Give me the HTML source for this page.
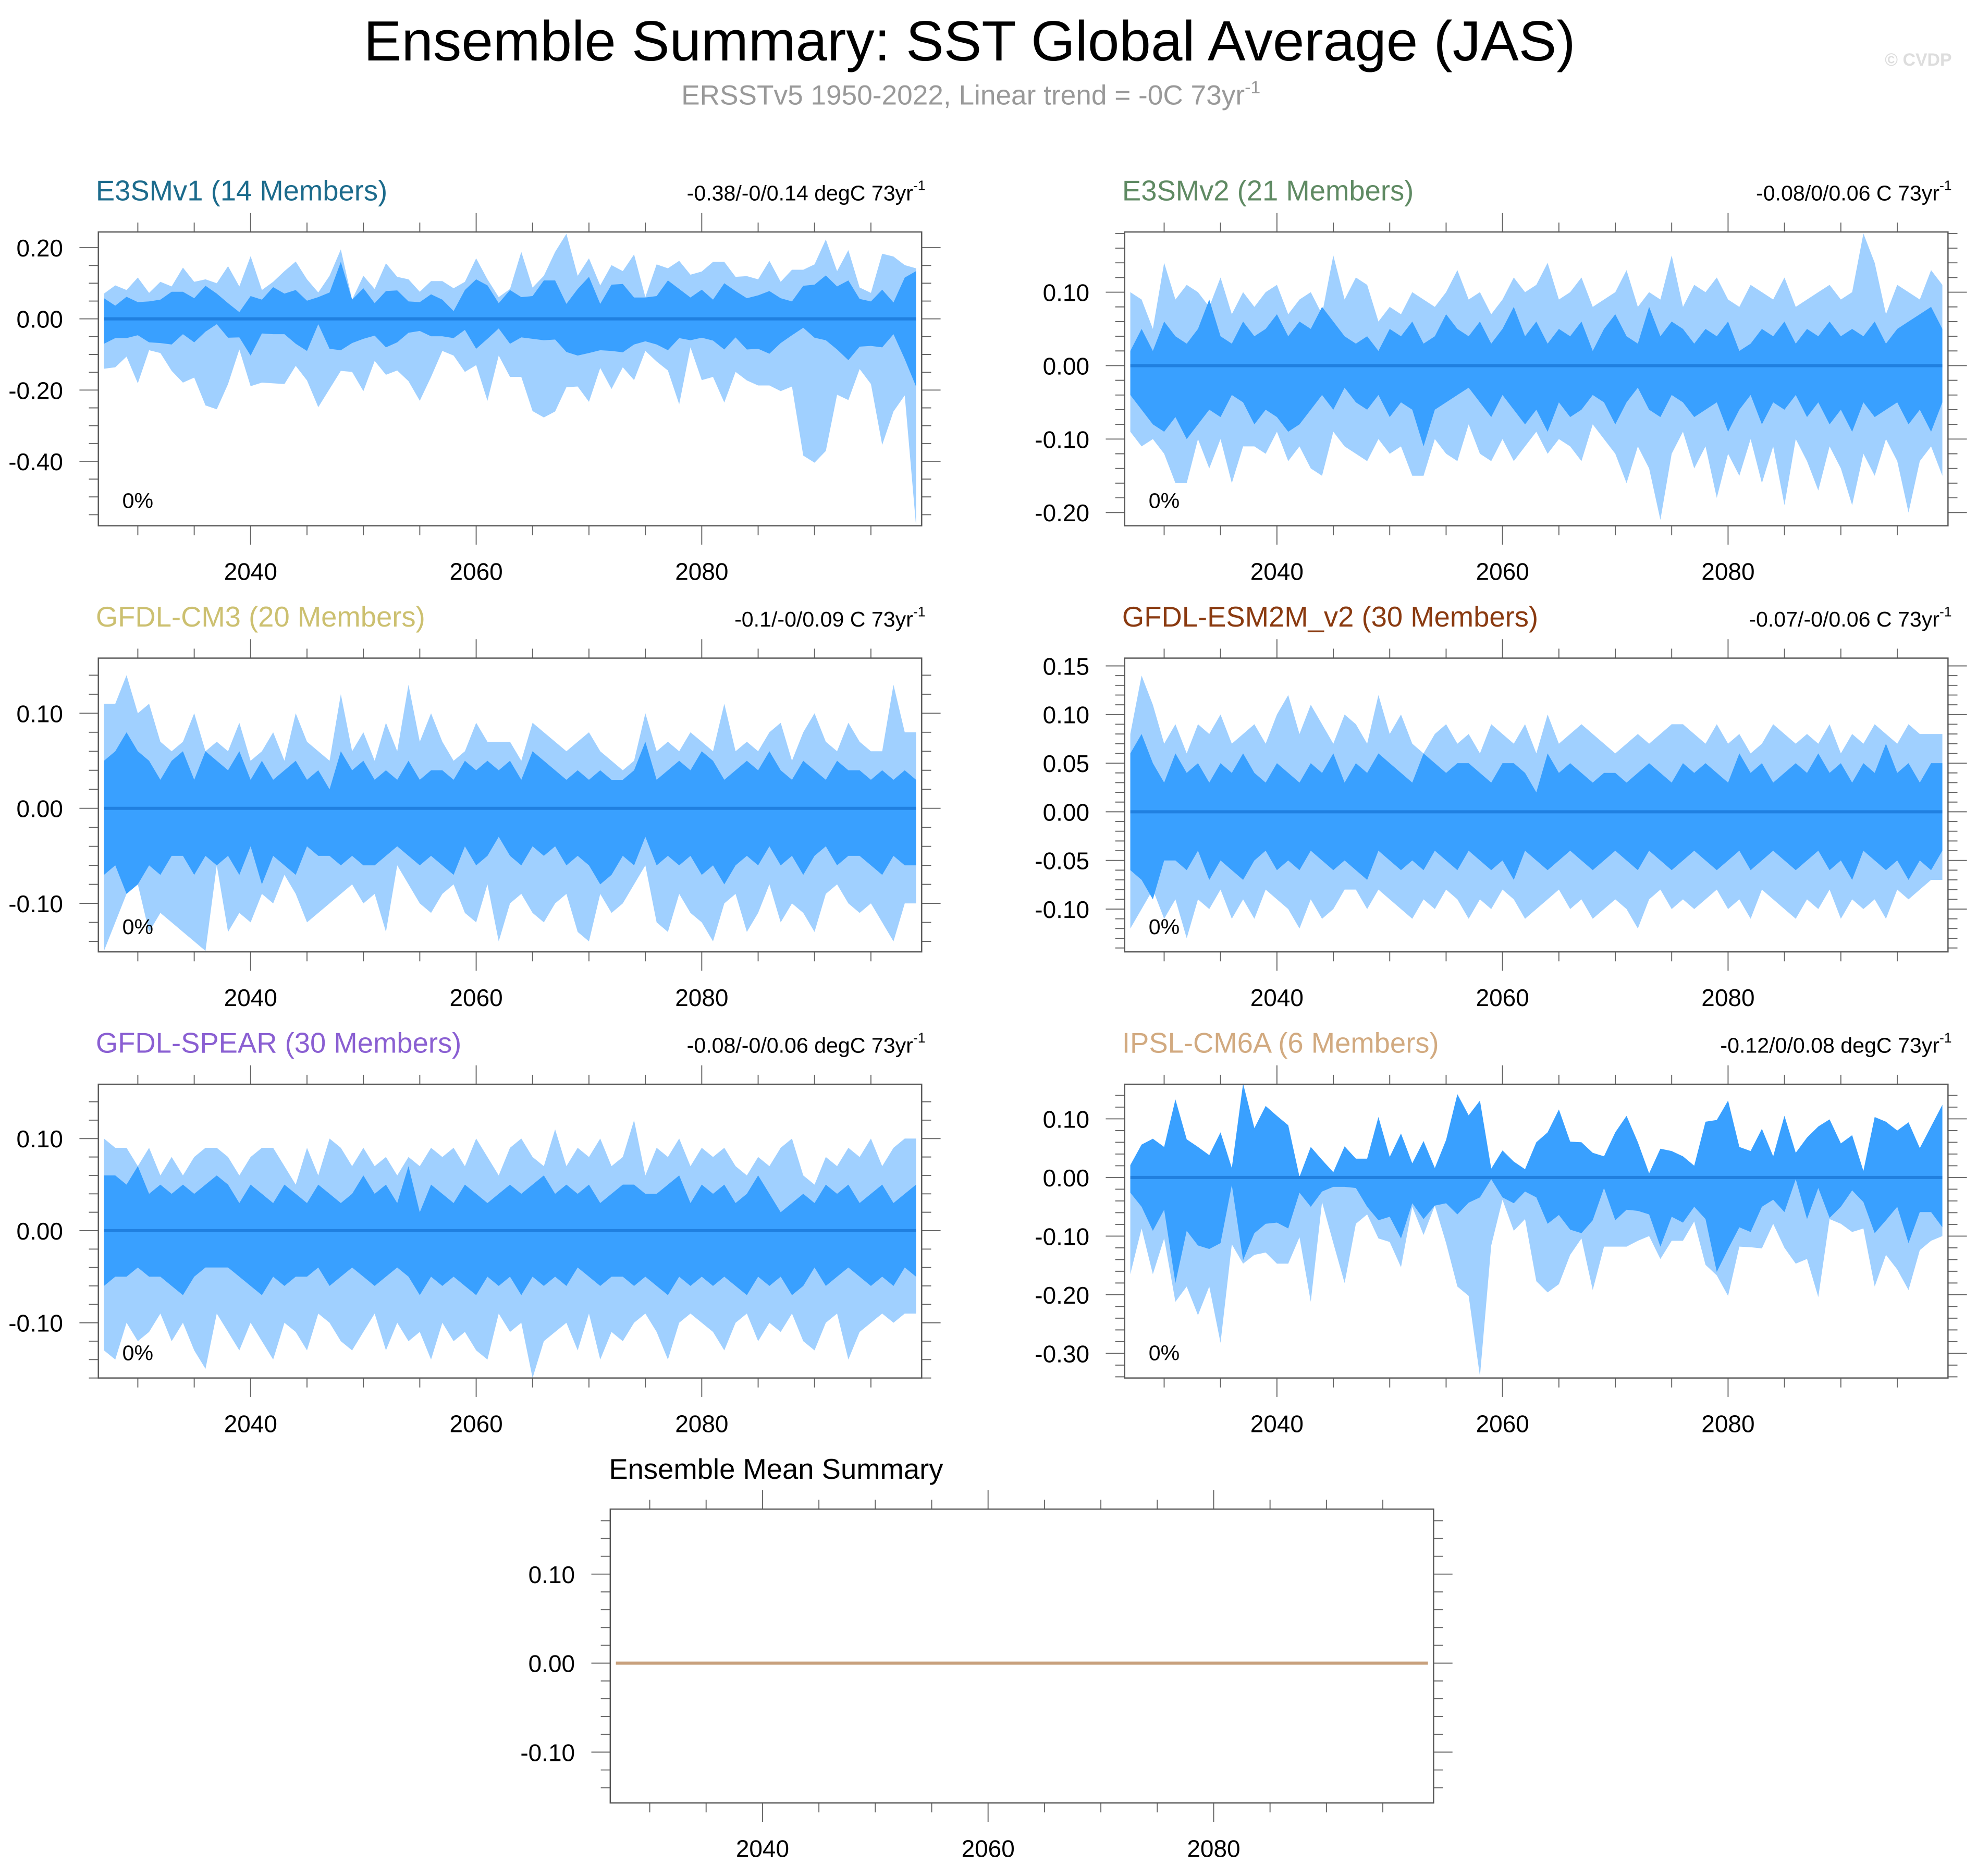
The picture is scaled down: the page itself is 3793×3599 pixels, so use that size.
<!DOCTYPE html>
<html><head><meta charset="utf-8"><style>
html,body{margin:0;padding:0;background:#fff;}
svg{display:block;font-family:"Liberation Sans",Arial,sans-serif;}
</style></head><body>
<svg id="fig" width="3793" height="3599" viewBox="0 0 1568 1488" preserveAspectRatio="none" xmlns="http://www.w3.org/2000/svg">
<text x="769" y="48" font-size="45" text-anchor="middle" fill="#000">Ensemble Summary: SST Global Average (JAS)</text>
<text x="770" y="83" font-size="22" text-anchor="middle" fill="#999">ERSSTv5 1950-2022, Linear trend = -0C 73yr<tspan dy="-9" font-size="14">-1</tspan></text>
<text x="1548" y="52" font-size="14" font-weight="bold" text-anchor="end" fill="#ddd">© CVDP</text>
</svg>
<script>
// ---- data (values in degC) ----
const startYear = 2027;
const xTickYears = [2040, 2060, 2080];

const p1OuterMax = [0.071,0.094,0.081,0.116,0.073,0.104,0.091,0.144,0.104,0.111,0.10,0.148,0.091,0.176,0.081,0.104,0.134,0.161,0.111,0.074,0.121,0.195,0.054,0.121,0.084,0.156,0.118,0.111,0.076,0.106,0.106,0.086,0.104,0.17,0.111,0.061,0.084,0.188,0.088,0.121,0.188,0.239,0.121,0.17,0.094,0.151,0.134,0.181,0.061,0.153,0.142,0.163,0.124,0.133,0.16,0.16,0.118,0.12,0.111,0.163,0.104,0.138,0.138,0.153,0.223,0.134,0.193,0.088,0.073,0.183,0.175,0.151,0.142];
const p1InnerMax = [0.058,0.037,0.062,0.047,0.049,0.054,0.076,0.076,0.058,0.093,0.071,0.044,0.019,0.064,0.054,0.089,0.071,0.081,0.051,0.061,0.074,0.16,0.054,0.086,0.044,0.078,0.080,0.049,0.047,0.069,0.054,0.022,0.081,0.111,0.094,0.044,0.081,0.061,0.064,0.108,0.108,0.042,0.084,0.118,0.042,0.096,0.098,0.06,0.06,0.064,0.108,0.084,0.06,0.082,0.054,0.1,0.078,0.058,0.066,0.078,0.058,0.049,0.093,0.096,0.122,0.091,0.108,0.056,0.049,0.082,0.046,0.116,0.134];
const p1InnerMin = [-0.07,-0.054,-0.054,-0.046,-0.066,-0.068,-0.072,-0.043,-0.066,-0.036,-0.015,-0.053,-0.052,-0.103,-0.041,-0.043,-0.043,-0.07,-0.09,-0.015,-0.084,-0.088,-0.068,-0.056,-0.047,-0.08,-0.066,-0.039,-0.034,-0.049,-0.049,-0.054,-0.031,-0.084,-0.056,-0.027,-0.07,-0.052,-0.056,-0.06,-0.058,-0.093,-0.103,-0.096,-0.088,-0.09,-0.094,-0.072,-0.063,-0.072,-0.088,-0.054,-0.06,-0.053,-0.061,-0.086,-0.052,-0.086,-0.084,-0.098,-0.068,-0.046,-0.025,-0.053,-0.06,-0.086,-0.116,-0.078,-0.076,-0.08,-0.043,-0.113,-0.19];
const p1OuterMin = [-0.14,-0.136,-0.106,-0.181,-0.088,-0.096,-0.146,-0.179,-0.165,-0.243,-0.254,-0.183,-0.086,-0.189,-0.179,-0.181,-0.183,-0.132,-0.173,-0.248,-0.197,-0.146,-0.149,-0.203,-0.118,-0.157,-0.145,-0.175,-0.23,-0.163,-0.09,-0.103,-0.149,-0.13,-0.23,-0.103,-0.163,-0.163,-0.259,-0.277,-0.26,-0.192,-0.19,-0.233,-0.138,-0.197,-0.136,-0.172,-0.09,-0.12,-0.145,-0.24,-0.08,-0.172,-0.163,-0.235,-0.149,-0.173,-0.187,-0.187,-0.203,-0.19,-0.384,-0.404,-0.371,-0.213,-0.228,-0.141,-0.183,-0.354,-0.26,-0.215,-0.581];

const p2OuterMax = [0.10,0.09,0.05,0.14,0.09,0.11,0.10,0.08,0.12,0.07,0.10,0.08,0.10,0.11,0.07,0.09,0.10,0.07,0.15,0.09,0.12,0.11,0.06,0.08,0.07,0.10,0.09,0.08,0.10,0.13,0.09,0.10,0.07,0.09,0.12,0.10,0.11,0.14,0.09,0.10,0.12,0.08,0.09,0.10,0.13,0.08,0.10,0.09,0.15,0.08,0.11,0.10,0.12,0.09,0.08,0.11,0.10,0.09,0.12,0.08,0.09,0.10,0.11,0.09,0.10,0.18,0.14,0.07,0.11,0.10,0.09,0.13,0.11];
const p2InnerMax = [0.02,0.05,0.02,0.06,0.04,0.03,0.05,0.09,0.04,0.03,0.06,0.04,0.05,0.07,0.04,0.06,0.05,0.08,0.06,0.04,0.03,0.04,0.02,0.05,0.04,0.06,0.03,0.04,0.07,0.05,0.04,0.06,0.03,0.05,0.08,0.04,0.06,0.03,0.05,0.04,0.06,0.02,0.05,0.07,0.04,0.03,0.08,0.04,0.06,0.05,0.03,0.05,0.04,0.06,0.02,0.03,0.05,0.04,0.06,0.03,0.05,0.04,0.06,0.04,0.05,0.04,0.06,0.03,0.05,0.06,0.07,0.08,0.05];
const p2InnerMin = [-0.04,-0.06,-0.08,-0.09,-0.07,-0.10,-0.08,-0.06,-0.07,-0.04,-0.05,-0.08,-0.06,-0.07,-0.09,-0.08,-0.06,-0.04,-0.06,-0.03,-0.05,-0.06,-0.04,-0.07,-0.05,-0.06,-0.11,-0.06,-0.05,-0.04,-0.03,-0.05,-0.07,-0.04,-0.06,-0.08,-0.06,-0.09,-0.05,-0.07,-0.06,-0.04,-0.05,-0.08,-0.05,-0.03,-0.06,-0.07,-0.04,-0.05,-0.07,-0.06,-0.05,-0.09,-0.06,-0.04,-0.08,-0.05,-0.06,-0.04,-0.07,-0.05,-0.08,-0.06,-0.09,-0.05,-0.07,-0.06,-0.05,-0.08,-0.06,-0.09,-0.05];
const p2OuterMin = [-0.09,-0.11,-0.10,-0.12,-0.16,-0.16,-0.10,-0.14,-0.10,-0.16,-0.11,-0.11,-0.12,-0.09,-0.13,-0.11,-0.14,-0.15,-0.09,-0.11,-0.12,-0.13,-0.10,-0.12,-0.11,-0.15,-0.15,-0.10,-0.12,-0.13,-0.08,-0.12,-0.13,-0.10,-0.13,-0.11,-0.09,-0.12,-0.10,-0.11,-0.13,-0.08,-0.10,-0.12,-0.16,-0.11,-0.14,-0.21,-0.12,-0.09,-0.14,-0.11,-0.18,-0.12,-0.15,-0.10,-0.16,-0.11,-0.19,-0.10,-0.13,-0.17,-0.11,-0.14,-0.19,-0.12,-0.15,-0.10,-0.13,-0.20,-0.13,-0.11,-0.15];

const p3OuterMax = [0.11,0.11,0.14,0.10,0.11,0.07,0.06,0.07,0.10,0.06,0.07,0.06,0.09,0.05,0.06,0.08,0.05,0.10,0.07,0.06,0.05,0.12,0.06,0.08,0.05,0.09,0.06,0.13,0.07,0.10,0.07,0.05,0.06,0.09,0.07,0.07,0.07,0.05,0.09,0.08,0.07,0.06,0.07,0.08,0.06,0.05,0.04,0.05,0.10,0.06,0.07,0.06,0.08,0.07,0.06,0.11,0.06,0.07,0.06,0.08,0.09,0.05,0.08,0.10,0.07,0.06,0.09,0.07,0.06,0.06,0.13,0.08,0.08];
const p3InnerMax = [0.05,0.06,0.08,0.06,0.05,0.03,0.05,0.06,0.03,0.06,0.05,0.04,0.06,0.03,0.05,0.03,0.04,0.05,0.03,0.04,0.02,0.06,0.04,0.05,0.03,0.04,0.03,0.05,0.03,0.04,0.04,0.03,0.05,0.04,0.05,0.04,0.05,0.03,0.06,0.05,0.04,0.03,0.04,0.03,0.04,0.03,0.03,0.04,0.07,0.03,0.04,0.05,0.04,0.06,0.05,0.03,0.04,0.05,0.04,0.06,0.04,0.03,0.05,0.04,0.03,0.05,0.04,0.04,0.03,0.04,0.03,0.04,0.03];
const p3InnerMin = [-0.07,-0.06,-0.09,-0.08,-0.06,-0.07,-0.05,-0.05,-0.07,-0.05,-0.06,-0.05,-0.07,-0.04,-0.08,-0.05,-0.06,-0.07,-0.04,-0.05,-0.05,-0.06,-0.05,-0.06,-0.06,-0.05,-0.04,-0.05,-0.06,-0.05,-0.06,-0.07,-0.04,-0.06,-0.05,-0.03,-0.05,-0.06,-0.04,-0.05,-0.04,-0.06,-0.05,-0.06,-0.08,-0.07,-0.05,-0.06,-0.03,-0.06,-0.05,-0.06,-0.05,-0.07,-0.06,-0.08,-0.06,-0.05,-0.06,-0.04,-0.06,-0.05,-0.07,-0.05,-0.04,-0.06,-0.05,-0.05,-0.06,-0.07,-0.05,-0.06,-0.06];
const p3OuterMin = [-0.15,-0.12,-0.09,-0.08,-0.13,-0.11,-0.12,-0.13,-0.14,-0.15,-0.06,-0.13,-0.11,-0.12,-0.09,-0.10,-0.07,-0.09,-0.12,-0.11,-0.10,-0.09,-0.08,-0.10,-0.09,-0.13,-0.06,-0.08,-0.10,-0.11,-0.09,-0.08,-0.11,-0.12,-0.08,-0.14,-0.10,-0.09,-0.11,-0.12,-0.10,-0.09,-0.13,-0.14,-0.09,-0.11,-0.10,-0.08,-0.06,-0.12,-0.13,-0.09,-0.11,-0.12,-0.14,-0.10,-0.09,-0.13,-0.11,-0.08,-0.12,-0.10,-0.11,-0.13,-0.09,-0.08,-0.10,-0.11,-0.10,-0.12,-0.14,-0.10,-0.10];

const p4OuterMax = [0.08,0.14,0.11,0.07,0.09,0.06,0.09,0.08,0.10,0.07,0.08,0.09,0.07,0.10,0.12,0.08,0.11,0.09,0.07,0.10,0.09,0.07,0.12,0.08,0.10,0.07,0.06,0.08,0.09,0.07,0.08,0.06,0.09,0.08,0.07,0.09,0.06,0.10,0.07,0.08,0.09,0.08,0.07,0.06,0.07,0.08,0.07,0.08,0.09,0.09,0.08,0.07,0.09,0.07,0.08,0.06,0.07,0.09,0.08,0.07,0.08,0.07,0.09,0.06,0.08,0.07,0.09,0.08,0.07,0.09,0.08,0.08,0.08];
const p4InnerMax = [0.06,0.08,0.05,0.03,0.06,0.04,0.05,0.03,0.05,0.04,0.06,0.04,0.03,0.05,0.04,0.03,0.05,0.04,0.06,0.03,0.05,0.04,0.06,0.05,0.04,0.03,0.06,0.05,0.04,0.05,0.05,0.04,0.03,0.05,0.05,0.04,0.02,0.06,0.04,0.05,0.04,0.03,0.04,0.04,0.03,0.04,0.05,0.04,0.03,0.05,0.04,0.05,0.04,0.03,0.06,0.04,0.05,0.03,0.04,0.05,0.04,0.06,0.04,0.05,0.03,0.05,0.04,0.07,0.04,0.05,0.03,0.05,0.05];
const p4InnerMin = [-0.06,-0.07,-0.09,-0.05,-0.05,-0.06,-0.04,-0.07,-0.05,-0.06,-0.07,-0.05,-0.04,-0.06,-0.05,-0.06,-0.04,-0.05,-0.06,-0.05,-0.06,-0.07,-0.04,-0.05,-0.06,-0.05,-0.06,-0.04,-0.05,-0.06,-0.04,-0.05,-0.06,-0.05,-0.07,-0.04,-0.05,-0.06,-0.05,-0.04,-0.05,-0.06,-0.05,-0.04,-0.05,-0.06,-0.04,-0.05,-0.06,-0.05,-0.04,-0.05,-0.06,-0.05,-0.04,-0.06,-0.05,-0.04,-0.05,-0.06,-0.05,-0.04,-0.06,-0.05,-0.07,-0.04,-0.05,-0.06,-0.05,-0.07,-0.05,-0.06,-0.04];
const p4OuterMin = [-0.12,-0.10,-0.08,-0.11,-0.09,-0.13,-0.09,-0.10,-0.08,-0.11,-0.09,-0.11,-0.08,-0.09,-0.10,-0.12,-0.09,-0.11,-0.10,-0.08,-0.08,-0.10,-0.08,-0.09,-0.10,-0.11,-0.09,-0.10,-0.08,-0.09,-0.11,-0.09,-0.10,-0.08,-0.09,-0.11,-0.10,-0.09,-0.08,-0.10,-0.09,-0.11,-0.10,-0.09,-0.10,-0.12,-0.09,-0.08,-0.10,-0.09,-0.10,-0.09,-0.08,-0.10,-0.09,-0.11,-0.08,-0.09,-0.10,-0.11,-0.09,-0.10,-0.08,-0.11,-0.09,-0.10,-0.09,-0.11,-0.08,-0.09,-0.08,-0.07,-0.07];

const p5OuterMax = [0.10,0.09,0.09,0.07,0.09,0.06,0.08,0.06,0.08,0.09,0.09,0.08,0.06,0.08,0.09,0.09,0.07,0.05,0.09,0.06,0.10,0.09,0.07,0.09,0.07,0.08,0.06,0.08,0.07,0.09,0.08,0.09,0.07,0.10,0.08,0.06,0.09,0.10,0.08,0.07,0.11,0.07,0.09,0.08,0.10,0.07,0.08,0.12,0.06,0.09,0.08,0.10,0.07,0.09,0.08,0.09,0.07,0.06,0.08,0.07,0.09,0.10,0.06,0.05,0.08,0.07,0.09,0.08,0.10,0.07,0.09,0.10,0.10];
const p5InnerMax = [0.06,0.06,0.05,0.07,0.04,0.05,0.04,0.05,0.04,0.05,0.06,0.05,0.03,0.05,0.04,0.03,0.05,0.04,0.03,0.05,0.04,0.03,0.04,0.06,0.04,0.05,0.03,0.07,0.02,0.05,0.04,0.03,0.05,0.04,0.03,0.04,0.05,0.04,0.05,0.06,0.04,0.05,0.04,0.05,0.03,0.04,0.05,0.05,0.04,0.04,0.05,0.06,0.03,0.05,0.04,0.05,0.03,0.04,0.06,0.04,0.02,0.03,0.04,0.03,0.05,0.04,0.05,0.03,0.04,0.05,0.03,0.04,0.05];
const p5InnerMin = [-0.06,-0.05,-0.05,-0.04,-0.05,-0.05,-0.06,-0.07,-0.05,-0.04,-0.04,-0.04,-0.05,-0.06,-0.07,-0.05,-0.06,-0.05,-0.05,-0.04,-0.06,-0.05,-0.04,-0.05,-0.06,-0.05,-0.04,-0.05,-0.07,-0.05,-0.06,-0.05,-0.06,-0.07,-0.05,-0.06,-0.05,-0.07,-0.05,-0.06,-0.05,-0.06,-0.04,-0.05,-0.06,-0.05,-0.05,-0.06,-0.05,-0.06,-0.07,-0.05,-0.06,-0.05,-0.06,-0.05,-0.06,-0.07,-0.05,-0.06,-0.05,-0.07,-0.06,-0.04,-0.06,-0.05,-0.04,-0.05,-0.06,-0.05,-0.06,-0.04,-0.05];
const p5OuterMin = [-0.13,-0.14,-0.10,-0.12,-0.11,-0.09,-0.12,-0.10,-0.13,-0.15,-0.09,-0.11,-0.13,-0.10,-0.12,-0.14,-0.10,-0.11,-0.13,-0.09,-0.10,-0.12,-0.13,-0.11,-0.09,-0.13,-0.10,-0.12,-0.11,-0.14,-0.10,-0.12,-0.11,-0.13,-0.14,-0.09,-0.11,-0.10,-0.16,-0.12,-0.11,-0.10,-0.13,-0.09,-0.14,-0.11,-0.12,-0.10,-0.09,-0.11,-0.14,-0.10,-0.09,-0.10,-0.11,-0.13,-0.10,-0.09,-0.12,-0.10,-0.11,-0.09,-0.12,-0.13,-0.10,-0.09,-0.14,-0.11,-0.10,-0.09,-0.10,-0.09,-0.09];

const p6InnerMax = [0.021,0.056,0.066,0.052,0.133,0.065,0.052,0.038,0.077,0.016,0.16,0.084,0.122,0.105,0.089,0.001,0.052,0.03,0.009,0.053,0.032,0.032,0.103,0.035,0.075,0.024,0.062,0.016,0.064,0.142,0.106,0.131,0.015,0.046,0.027,0.014,0.06,0.077,0.116,0.061,0.06,0.042,0.036,0.077,0.105,0.06,0.007,0.049,0.045,0.036,0.02,0.095,0.098,0.131,0.052,0.045,0.083,0.036,0.105,0.042,0.068,0.087,0.099,0.058,0.072,0.011,0.103,0.095,0.08,0.094,0.05,0.087,0.124];
const p6OuterMax = p6InnerMax.slice();
const p6InnerMin = [-0.026,-0.05,-0.091,-0.055,-0.18,-0.091,-0.116,-0.122,-0.112,-0.013,-0.141,-0.095,-0.079,-0.077,-0.087,-0.026,-0.05,-0.024,-0.016,-0.016,-0.018,-0.05,-0.073,-0.067,-0.104,-0.044,-0.071,-0.048,-0.044,-0.063,-0.043,-0.034,-0.003,-0.034,-0.044,-0.024,-0.034,-0.079,-0.064,-0.089,-0.095,-0.073,-0.018,-0.073,-0.055,-0.057,-0.063,-0.118,-0.067,-0.077,-0.05,-0.071,-0.161,-0.122,-0.085,-0.093,-0.05,-0.038,-0.059,-0.003,-0.071,-0.018,-0.069,-0.05,-0.022,-0.042,-0.095,-0.073,-0.05,-0.112,-0.059,-0.059,-0.085];
const p6OuterMin = [-0.165,-0.087,-0.165,-0.104,-0.212,-0.186,-0.235,-0.186,-0.282,-0.114,-0.147,-0.132,-0.128,-0.147,-0.147,-0.102,-0.212,-0.042,-0.112,-0.18,-0.079,-0.063,-0.104,-0.11,-0.153,-0.05,-0.098,-0.048,-0.112,-0.186,-0.202,-0.339,-0.116,-0.038,-0.091,-0.071,-0.177,-0.196,-0.182,-0.132,-0.104,-0.192,-0.118,-0.118,-0.118,-0.108,-0.1,-0.139,-0.108,-0.108,-0.075,-0.149,-0.167,-0.202,-0.118,-0.119,-0.121,-0.079,-0.12,-0.147,-0.139,-0.204,-0.071,-0.079,-0.093,-0.087,-0.186,-0.132,-0.157,-0.192,-0.124,-0.108,-0.1];

const ensembleMean = [0,0,0,0,0,0,0,0,0,0,0,0,0,0,0,0,0,0,0,0,0,0,0,0,0,0,0,0,0,0,0,0,0,0,0,0,0,0,0,0,0,0,0,0,0,0,0,0,0,0,0,0,0,0,0,0,0,0,0,0,0,0,0,0,0,0,0,0,0,0,0,0,0];

const panelTitles = ['E3SMv1 (14 Members)','E3SMv2 (21 Members)','GFDL-CM3 (20 Members)','GFDL-ESM2M_v2 (30 Members)','GFDL-SPEAR (30 Members)','IPSL-CM6A (6 Members)'];
const panelTrends = ['-0.38/-0/0.14 degC 73yr','-0.08/0/0.06 C 73yr','-0.1/-0/0.09 C 73yr','-0.07/-0/0.06 C 73yr','-0.08/-0/0.06 degC 73yr','-0.12/0/0.08 degC 73yr'];
const p1YTicks = [-0.4,-0.2,0,0.2];
const p2YTicks = [-0.2,-0.1,0,0.1];
const p3YTicks = [-0.1,0,0.1];
const p4YTicks = [-0.1,-0.05,0,0.05,0.1,0.15];
const p5YTicks = [-0.1,0,0.1];
const p6YTicks = [-0.3,-0.2,-0.1,0,0.1];
const p7YTicks = [-0.1,0,0.1];

// ---- layout ----
const NS = 'http://www.w3.org/2000/svg';
const svg = document.getElementById('fig');
function mk(tag, attrs, parent) {
  const e = document.createElementNS(NS, tag);
  for (const k in attrs) e.setAttribute(k, attrs[k]);
  (parent || svg).appendChild(e);
  return e;
}
const XMIN = 2026.5, XMAX = 2099.5;
const panels = [
  {key:'e3smv1', color:'#1c6b8c', x0:78, y0:184, ymin:-0.581, ymax:0.244, ticks:p1YTicks, minor:0.05, bands:[p1OuterMin,p1OuterMax,p1InnerMin,p1InnerMax]},
  {key:'e3smv2', color:'#5f8a63', x0:892, y0:184, ymin:-0.218, ymax:0.182, ticks:p2YTicks, minor:0.02, bands:[p2OuterMin,p2OuterMax,p2InnerMin,p2InnerMax]},
  {key:'gfdl-cm3', color:'#ccc070', x0:78, y0:522, ymin:-0.151, ymax:0.158, ticks:p3YTicks, minor:0.02, bands:[p3OuterMin,p3OuterMax,p3InnerMin,p3InnerMax]},
  {key:'gfdl-esm2m', color:'#8a3a10', x0:892, y0:522, ymin:-0.144, ymax:0.158, ticks:p4YTicks, minor:0.01, bands:[p4OuterMin,p4OuterMax,p4InnerMin,p4InnerMax]},
  {key:'gfdl-spear', color:'#8a5fd2', x0:78, y0:860, ymin:-0.160, ymax:0.159, ticks:p5YTicks, minor:0.02, bands:[p5OuterMin,p5OuterMax,p5InnerMin,p5InnerMax]},
  {key:'ipsl-cm6a', color:'#d2aa80', x0:892, y0:860, ymin:-0.342, ymax:0.159, ticks:p6YTicks, minor:0.02, bands:[p6OuterMin,p6OuterMax,p6InnerMin,p6InnerMax]},
  {key:'ensemble-mean', color:'#000', x0:484, y0:1197, ymin:-0.157, ymax:0.173, ticks:p7YTicks, minor:0.02, bands:null}
];
const W = 653, H = 233;

function drawAxes(p, g, xs, ys) {
  const x1 = p.x0 + W, y1 = p.y0 + H;
  const nMin = Math.ceil(p.ymin / p.minor - 1e-6), nMax = Math.floor(p.ymax / p.minor + 1e-6);
  for (let i = nMin; i <= nMax; i++) {
    const v = i * p.minor, y = ys(v);
    const isMajor = p.ticks.some(t => Math.abs(t - v) < 1e-6);
    const len = isMajor ? 15 : 7.5;
    const tl = mk('line', {x1:p.x0 - len, x2:p.x0, y1:y, y2:y, stroke:'#666', 'stroke-width':0.8}, g);
    
    
    const tr = mk('line', {x1:x1, x2:x1 + len, y1:y, y2:y, stroke:'#666', 'stroke-width':0.8}, g);
    
    
  }
  for (const t of p.ticks) {
    const lab = mk('text', {x:p.x0 - 28, y:ys(t) + 7, 'font-size':19, 'text-anchor':'end', fill:'#000'}, g);
    lab.textContent = t.toFixed(2);
    
    
  }
  for (let yr = 2030; yr <= 2095; yr += 5) {
    const x = xs(yr), isMajor = xTickYears.includes(yr);
    const len = isMajor ? 15 : 7.5;
    const tb = mk('line', {x1:x, x2:x, y1:y1, y2:y1 + len, stroke:'#666', 'stroke-width':0.8}, g);
    
    
    const tt = mk('line', {x1:x, x2:x, y1:p.y0 - len, y2:p.y0, stroke:'#666', 'stroke-width':0.8}, g);
    
    
  }
  for (const yr of xTickYears) {
    const lab = mk('text', {x:xs(yr), y:y1 + 43, 'font-size':19, 'text-anchor':'middle', fill:'#000'}, g);
    lab.textContent = String(yr);
    
    
  }
  const box = mk('rect', {x:p.x0, y:p.y0, width:W, height:H, fill:'none', stroke:'#555', 'stroke-width':1}, g);
  
  
}

function bandPath(lo, hi, xs, ys) {
  const n = Math.min(lo.length, hi.length);
  let d = '';
  for (let i = 0; i < n; i++) d += (i ? 'L' : 'M') + xs(startYear + i).toFixed(2) + ',' + ys(hi[i]).toFixed(2);
  for (let i = n - 1; i >= 0; i--) d += 'L' + xs(startYear + i).toFixed(2) + ',' + ys(lo[i]).toFixed(2);
  return d + 'Z';
}
function linePath(vals, xs, ys) {
  let d = '';
  for (let i = 0; i < vals.length; i++) d += (i ? 'L' : 'M') + xs(startYear + i).toFixed(2) + ',' + ys(vals[i]).toFixed(2);
  return d;
}

panels.forEach((p, idx) => {
  const g = mk('g', {});
  
  
  const xs = yr => p.x0 + (yr - XMIN) / (XMAX - XMIN) * W;
  const ys = v => p.y0 + (p.ymax - v) / (p.ymax - p.ymin) * H;
  const cid = 'clip' + idx;
  const cp = mk('clipPath', {id:cid}, g);
  mk('rect', {x:p.x0, y:p.y0, width:W, height:H}, cp);
  const plot = mk('g', {'clip-path':'url(#' + cid + ')'}, g);
  
  
  if (p.bands) {
    const outer = mk('path', {d:bandPath(p.bands[0], p.bands[1], xs, ys), fill:'#a0d0ff'}, plot);
    
    
    const inner = mk('path', {d:bandPath(p.bands[2], p.bands[3], xs, ys), fill:'#39a0ff'}, plot);
    
    
    const zl = mk('path', {d:linePath(ensembleMean, xs, ys), stroke:'#2080e0', 'stroke-width':2.5, fill:'none'}, plot);
    
    
    const t = mk('text', {x:p.x0 - 2, y:p.y0 - 25, 'font-size':22.5, fill:p.color}, g);
    t.textContent = panelTitles[idx];
    
    
    const tr = mk('text', {x:p.x0 + W + 3, y:p.y0 - 25, 'font-size':17, 'text-anchor':'end', fill:'#000'}, g);
    tr.textContent = panelTrends[idx];
    const sup = mk('tspan', {dy:-8, 'font-size':11}, tr);
    sup.textContent = '-1';
    
    
    const pc = mk('text', {x:p.x0 + 19, y:p.y0 + 219, 'font-size':17, fill:'#000'}, g);
    pc.textContent = '0%';
    
    
  } else {
    const ml = mk('path', {d:linePath(ensembleMean, xs, ys), stroke:'#c8a07c', 'stroke-width':2.5, fill:'none'}, plot);
    
    
    const t = mk('text', {x:p.x0 - 1, y:p.y0 - 24, 'font-size':22.5, fill:'#000'}, g);
    t.textContent = 'Ensemble Mean Summary';
    
    
  }
  drawAxes(p, g, xs, ys);
});
</script>
</body></html>
